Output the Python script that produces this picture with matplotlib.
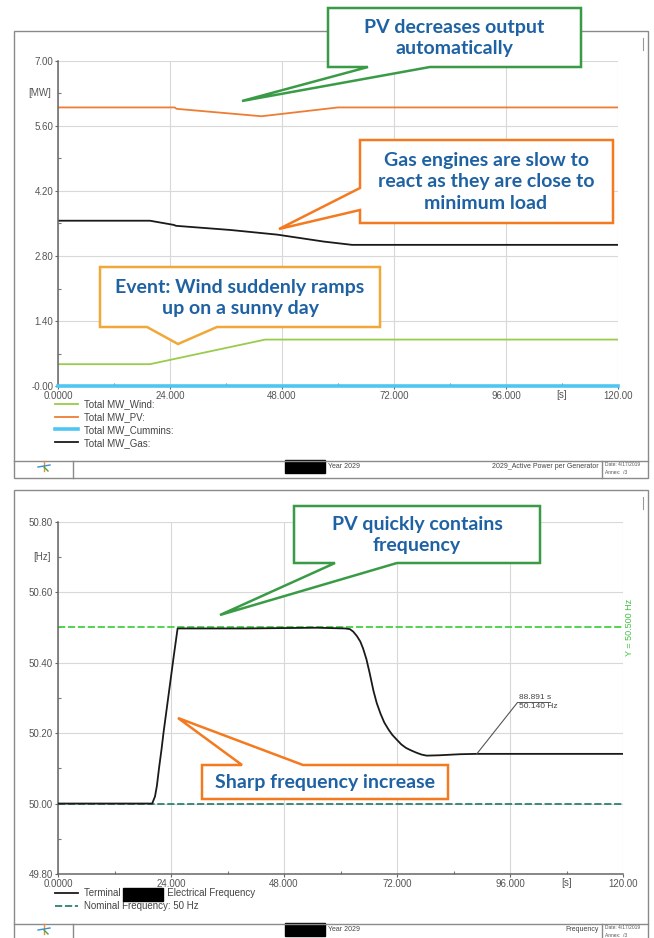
import matplotlib.pyplot as plt
from matplotlib.patches import Polygon, Rectangle
from matplotlib.lines import Line2D

# --- data: active power per generator [MW] ---
t_wind = [0, 19.7, 44.4, 120]
mw_wind = [0.47, 0.47, 1.0, 1.0]
t_pv = [0, 25.0, 25.4, 43.6, 60.0, 120]
mw_pv = [6.0, 6.0, 5.97, 5.81, 6.0, 6.0]
t_cummins = [0, 120]
mw_cummins = [0.0, 0.0]
t_gas = [0, 19.7, 24.8, 25.3, 37, 47, 57, 63, 120]
mw_gas = [3.56, 3.56, 3.47, 3.45, 3.36, 3.26, 3.11, 3.04, 3.04]

# --- data: terminal frequency [Hz] ---
t_freq = [0, 20.0, 20.6, 21.0, 21.5, 22.0, 22.4, 23.1, 23.8, 24.6, 25.4, 40, 55, 61,
          62.0, 62.7, 63.5, 64.2, 64.8, 65.5, 66.2, 67.0, 67.7, 68.5, 69.3, 70.2,
          71.0, 71.9, 72.9, 73.9, 74.8, 76.0, 77.2, 78.3, 81, 85.4, 88.9, 120]
hz_freq = [50.0, 50.0, 50.02, 50.05, 50.105, 50.155, 50.20, 50.27, 50.34, 50.42,
           50.497, 50.497, 50.499, 50.497, 50.495, 50.488, 50.475, 50.46, 50.44,
           50.41, 50.37, 50.32, 50.285, 50.255, 50.23, 50.21, 50.195, 50.182,
           50.168, 50.158, 50.152, 50.145, 50.139, 50.136, 50.137, 50.140, 50.141,
           50.141]
f_nominal = 50.0
f_limit = 50.5
marker_t, marker_f = 88.891, 50.140

x_ticks = [0, 24, 48, 72, 96, 120]
x_labels = ['0.0000', '24.000', '48.000', '72.000', '96.000', '120.00']
mw_ticks = [0, 1.4, 2.8, 4.2, 5.6, 7.0]
mw_labels = ['-0.00', '1.40', '2.80', '4.20', '5.60', '7.00']
hz_ticks = [49.8, 50.0, 50.2, 50.4, 50.6, 50.8]
hz_labels = ['49.80', '50.00', '50.20', '50.40', '50.60', '50.80']

W, H = 654, 938
fig = plt.figure(figsize=(6.54, 9.38), dpi=100)
plt.rcParams['font.family'] = ['Liberation Sans', 'DejaVu Sans']


def fx(x):
    return x / W


def fy(y):
    return 1 - y / H


def axes_px(l, t, r, b):
    return fig.add_axes([fx(l), fy(b), (r - l) / W, (b - t) / H])


def style(ax, yticks, ylabels, ylim, unit, s_off):
    ax.set_xlim(0, 120)
    ax.set_ylim(*ylim)
    ax.set_xticks(x_ticks, x_labels)
    ax.set_xticks([12, 36, 60, 84, 108], minor=True)
    ax.set_yticks(yticks, ylabels)
    step = yticks[1] - yticks[0]
    ax.set_yticks([v + step / 2 for v in yticks[:-1]], minor=True)
    ax.grid(True, which='major', color='#d8d8d8', lw=0.8)
    for s in ['top', 'right']:
        ax.spines[s].set_visible(False)
    for s in ['left', 'bottom']:
        ax.spines[s].set_color('#666')
        ax.spines[s].set_linewidth(1.1)
    ax.tick_params(which='major', length=2.5, width=0.8, color='#666',
                   labelsize=7, labelcolor='#555', pad=1)
    ax.tick_params(which='minor', direction='in', length=2.5, width=0.8, color='#777')
    ax.text(108, -s_off, '[s]', transform=ax.get_xaxis_transform(), ha='center',
            va='top', fontsize=7, color='#555')
    ax.text(-0.012, yticks[-1] - step / 2, unit, transform=ax.get_yaxis_transform(),
            ha='right', va='center', fontsize=7, color='#555')


# ---------- top panel ----------
ax1 = axes_px(58, 61, 618, 386)
style(ax1, mw_ticks, mw_labels, (0, 7), '[MW]', 0.011)
ax1.plot(t_wind, mw_wind, color='#99cc4c', lw=1.3, label='Total MW_Wind:')
ax1.plot(t_pv, mw_pv, color='#ee7d33', lw=1.3, label='Total MW_PV:')
ax1.plot(t_cummins, mw_cummins, color='#4fc6f2', lw=2.6, label='Total MW_Cummins:',
         clip_on=False, zorder=3)
ax1.plot(t_gas, mw_gas, color='#1a1a1a', lw=1.3, label='Total MW_Gas:')
leg1 = ax1.legend(loc='upper left', bbox_to_anchor=(fx(55), fy(399)),
                  bbox_transform=fig.transFigure, frameon=False, fontsize=7,
                  handlelength=2.4, handletextpad=0.6, labelspacing=0.3,
                  borderaxespad=0, borderpad=0)
for txt in leg1.get_texts():
    txt.set_color('#444')

# ---------- bottom panel ----------
ax2 = axes_px(58, 521.7, 623, 874)
style(ax2, hz_ticks, hz_labels, (49.8, 50.8), '[Hz]', 0.01)
ax2.axhline(f_limit, color='#43d043', lw=1.3, ls=(0, (4, 1.5)), zorder=2)
ax2.axhline(f_nominal, color='#2e8073', lw=1.3, ls=(0, (4, 1.5)), zorder=2,
            label='Nominal Frequency: 50 Hz')
ax2.plot(t_freq, hz_freq, color='#1a1a1a', lw=1.3, zorder=3,
         label='Terminal                 Electrical Frequency')
ax2.text(1.012, f_limit, 'Y = 50.500 Hz', transform=ax2.get_yaxis_transform(),
         rotation=90, ha='center', va='center', fontsize=6.5, color='#43c043')
ax2.annotate('', xy=(marker_t, marker_f), xytext=(97.6, 50.287),
             arrowprops=dict(arrowstyle='-', color='#555', lw=0.8, shrinkA=0, shrinkB=0))
ax2.text(97.9, 50.29, '88.891 s', fontsize=6, color='#444', va='bottom')
ax2.text(97.9, 50.284, '50.140 Hz', fontsize=6, color='#444', va='top')
ax2.plot([97.6, 104.5], [50.287, 50.287], color='#555', lw=0.7)
h, l = ax2.get_legend_handles_labels()
leg2 = ax2.legend(h[::-1], l[::-1], loc='upper left', bbox_to_anchor=(fx(55), fy(888)),
                  bbox_transform=fig.transFigure, frameon=False, fontsize=7,
                  handlelength=2.4, handletextpad=0.6, labelspacing=0.3,
                  borderaxespad=0, borderpad=0)
for txt in leg2.get_texts():
    txt.set_color('#444')


# ---------- frames and footers ----------
def line(x0, y0, x1, y1, color='#8a8a8a', lw=1.0):
    fig.add_artist(Line2D([fx(x0), fx(x1)], [fy(y0), fy(y1)], color=color, lw=lw,
                          transform=fig.transFigure))


def box(x0, y0, x1, y1, **kw):
    fig.add_artist(Rectangle((fx(x0), fy(y1)), (x1 - x0) / W, (y1 - y0) / H,
                             transform=fig.transFigure, **kw))


box(14, 31, 648, 478, fill=False, ec='#8a8a8a', lw=1.0)
line(14, 461, 648, 461)
line(73, 461, 73, 478)
line(602, 461, 602, 478)
box(14, 490, 648, 945, fill=False, ec='#8a8a8a', lw=1.0)
line(14, 924, 648, 924)
line(73, 924, 73, 940)
line(602, 924, 602, 940)
line(643, 38, 643, 50, color='#999', lw=0.8)
line(643, 497, 643, 509, color='#999', lw=0.8)

for yf, title, annex in [(466, '2029_Active Power per Generator', 'Annex:  /3'),
                         (929, 'Frequency', 'Annex:  /3')]:
    box(285, yf - 6, 325, yf + 7, color='black')
    fig.text(fx(328), fy(yf), 'Year 2029', fontsize=5, color='#444', va='center')
    fig.text(fx(599), fy(yf), title, fontsize=5, color='#444', va='center', ha='right')
    fig.text(fx(605), fy(yf - 2), 'Date: 4/17/2019', fontsize=3.5, color='#555', va='center')
    fig.text(fx(605), fy(yf + 6), annex, fontsize=3.5, color='#555', va='center')
    # tiny logo
    line(44, yf - 5, 44, yf + 5, color='#ef8a3a', lw=1)
    line(38, yf + 1, 50, yf - 1, color='#3a8fd0', lw=1)
    line(44, yf + 1, 48, yf + 5, color='#4aa14a', lw=1)

box(123, 888, 163, 901, color='black')

# ---------- callouts ----------
blue = '#1f62a3'


def callout(pts, edge, text, cx, cy, size=14):
    fig.add_artist(Polygon([(fx(x), fy(y)) for x, y in pts], closed=True,
                           transform=fig.transFigure, fc='white', ec=edge, lw=1.8,
                           joinstyle='miter', zorder=5))
    fig.text(fx(cx), fy(cy), text, ha='center', va='center', fontsize=size,
             fontweight='bold', color=blue, family='Lato', linespacing=1.3, zorder=6)


callout([(328, 8), (581, 8), (581, 67), (430, 67), (242, 101), (368, 67), (328, 67)],
        '#3a9b46', 'PV decreases output\nautomatically', 454, 38)
callout([(360, 140), (613, 140), (613, 223), (360, 223), (360, 210), (279, 229),
         (360, 188)], '#f47a20', 'Gas engines are slow to\nreact as they are close to\nminimum load',
        486, 182)
callout([(100, 267), (380, 267), (380, 327), (217, 327), (178, 344), (147, 327),
         (100, 327)], '#f0a838', 'Event: Wind suddenly ramps\nup on a sunny day', 240, 298)
callout([(294, 506), (540, 506), (540, 563), (397, 563), (220, 615), (335, 563),
         (294, 563)], '#3a9b46', 'PV quickly contains\nfrequency', 417, 535)
callout([(202, 765), (242, 765), (178, 718), (303, 765), (448, 765), (448, 799),
         (202, 799)], '#f47a20', 'Sharp frequency increase', 325, 782)

fig.savefig('out.png', dpi=100)
